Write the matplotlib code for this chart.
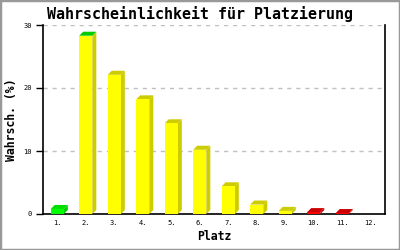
import numpy as np
import matplotlib
matplotlib.use("Agg")
import matplotlib.pyplot as plt
from matplotlib.patches import Polygon, Rectangle

places = ["1.", "2.", "3.", "4.", "5.", "6.", "7.", "8.", "9.", "10.", "11.", "12."]
probs = [0.8, 28.3, 22.1, 18.2, 14.4, 10.2, 4.4, 1.5, 0.5, 0.3, 0.15, 0.0]
front_colors = ["#00ff00"] + ["#ffff00"] * 8 + ["#ff0000"] * 2 + ["#ffff00"]
top_colors = ["#00dd00", "#00cc00"] + ["#cccc00"] * 7 + ["#cc0000"] * 2 + ["#cccc00"]
side_colors = ["#00cc00"] + ["#cccc00"] * 8 + ["#cc0000"] * 2 + ["#cccc00"]

W, H = 400, 250
fig = plt.figure(figsize=(W / 100, H / 100), dpi=100)
ax = fig.add_axes([43 / W, 36 / H, 342 / W, 189 / H])

ax.set_xlim(0, len(places))
ax.set_ylim(0, 30)
x = np.arange(len(places)) + 0.5
bar_w = 0.46

# depth of the fake 3d bars: 4px right, 4px up
dx = 4 / 342 * len(places)
dy = 4 / 189 * 30

for xi, v, fc, tc, sc in zip(x, probs, front_colors, top_colors, side_colors):
    if v <= 0:
        continue
    l, r = xi - bar_w / 2, xi + bar_w / 2
    ax.add_patch(Polygon([(r, 0), (r + dx, dy), (r + dx, v + dy), (r, v)],
                         closed=True, facecolor=sc, edgecolor="none", zorder=3))
    ax.add_patch(Polygon([(l, v), (l + dx, v + dy), (r + dx, v + dy), (r, v)],
                         closed=True, facecolor=tc, edgecolor="none", zorder=3))
    ax.bar(xi, v, width=bar_w, color=fc, edgecolor="none", zorder=4)

ax.set_yticks([0, 10, 20, 30])
ax.yaxis.grid(True, color="#c0c0c0", linestyle=(0, (3, 3.5)), linewidth=1)
ax.set_axisbelow(True)
ax.set_xticks(x)
ax.set_xticklabels(places, family="DejaVu Sans Mono", fontsize=5)
ax.tick_params(axis="x", length=0, pad=4)
ax.tick_params(axis="y", length=5, width=1, labelsize=5, pad=3)
for lab in ax.get_yticklabels():
    lab.set_family("DejaVu Sans Mono")

ax.spines["top"].set_visible(False)
for s in ["left", "bottom", "right"]:
    ax.spines[s].set_linewidth(1.2)
    ax.spines[s].set_color("black")

ax.set_xlabel("Platz", family="DejaVu Sans Mono", fontweight="bold", fontsize=8.3)
ax.xaxis.set_label_coords(0.5, -23 / 189)
ax.xaxis.label.set_va("center")
ax.set_ylabel("Wahrsch. (%)", family="DejaVu Sans Mono", fontweight="bold", fontsize=8.3)
ax.yaxis.set_label_coords(-31 / 342, 0.5)
ax.yaxis.label.set_va("center")
fig.text(0.5, 1 - 14 / H, "Wahrscheinlichkeit für Platzierung", family="DejaVu Sans Mono",
         fontweight="bold", fontsize=10.8, ha="center", va="center")

fig.patches.append(Rectangle((0, 0), 1, 1, transform=fig.transFigure, fill=False,
                             edgecolor="#999999", linewidth=2.5))

fig.savefig("out.png", dpi=100)
